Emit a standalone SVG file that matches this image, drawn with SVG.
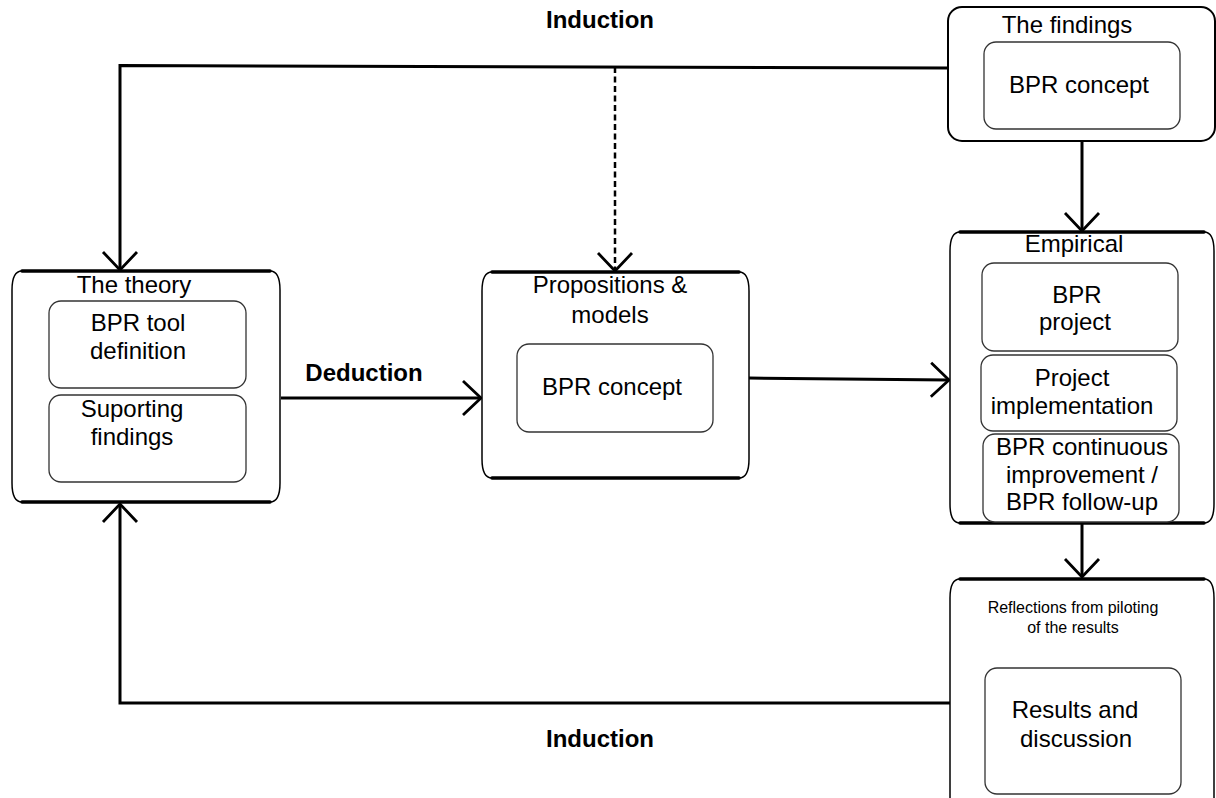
<svg xmlns="http://www.w3.org/2000/svg" width="1216" height="798" viewBox="0 0 1216 798">
  <style>
    text { font-family: "Liberation Sans", Arial, sans-serif; fill: #000; text-anchor: middle; }
    .t { font-size: 24px; }
    .s { font-size: 16px; }
    .lbl { font-size: 24px; font-weight: bold; }
    .frame { fill: #fff; stroke: #000; stroke-width: 1.5; }
    .rail { fill: none; stroke: #000; stroke-width: 3.5; stroke-linecap: round; }
    .inner { fill: #fff; stroke: #333; stroke-width: 1.3; }
    .box { fill: #fff; stroke: #000; stroke-width: 2; }
    .link { fill: none; stroke: #000; stroke-width: 3; }
    .dash { stroke-dasharray: 6 3.5; stroke-width: 2.5; }
  </style>
  <defs>
    <marker id="arrow" markerUnits="userSpaceOnUse" viewBox="-22 -20 26 40" markerWidth="26" markerHeight="40" refX="0" refY="0" orient="auto">
      <path d="M-18,-17 L0,0 L-18,17" fill="none" stroke="#000" stroke-width="2.8" stroke-linejoin="miter"/>
    </marker>
  </defs>

  <rect width="1216" height="798" fill="#fff"/>

  <!-- connectors -->
  <g id="connectors">
    <line class="link" x1="1082" y1="141" x2="1082" y2="231" marker-end="url(#arrow)"/>
    <polyline class="link" points="948,68 120,65.5 120,270" marker-end="url(#arrow)"/>
    <line class="link dash" x1="615" y1="67" x2="615" y2="271" marker-end="url(#arrow)"/>
    <line class="link" x1="281" y1="398" x2="481" y2="398" marker-end="url(#arrow)"/>
    <line class="link" x1="749" y1="378" x2="949" y2="380" marker-end="url(#arrow)"/>
    <line class="link" x1="1082" y1="524" x2="1082" y2="577" marker-end="url(#arrow)"/>
    <polyline class="link" points="950,703 120,703 120,504" marker-end="url(#arrow)"/>
    <text class="lbl" x="600" y="28">Induction</text>
    <text class="lbl" x="364" y="381">Deduction</text>
    <text class="lbl" x="600" y="747">Induction</text>
  </g>

  <!-- The findings -->
  <g id="findings">
    <rect class="box" x="948" y="7" width="267" height="134" rx="14"/>
    <text class="t" x="1067" y="33">The findings</text>
    <rect class="inner" x="984" y="42" width="196" height="87" rx="12"/>
    <text class="t" x="1079" y="93">BPR concept</text>
  </g>

  <!-- The theory -->
  <g id="theory">
    <path class="frame" d="M22,271 H270 Q280,271 280,290 V483 Q280,502 270,502 H22 Q12,502 12,483 V290 Q12,271 22,271 Z"/>
    <line class="rail" x1="22" y1="271" x2="270" y2="271"/>
    <line class="rail" x1="22" y1="502" x2="270" y2="502"/>
    <text class="t" x="134" y="293">The theory</text>
    <rect class="inner" x="49" y="301" width="197" height="87" rx="12"/>
    <text class="t" x="138" y="331">BPR tool</text>
    <text class="t" x="138" y="359">definition</text>
    <rect class="inner" x="49" y="395" width="197" height="87" rx="12"/>
    <text class="t" x="132" y="417">Suporting</text>
    <text class="t" x="132" y="445">findings</text>
  </g>

  <!-- Propositions & models -->
  <g id="propositions">
    <path class="frame" d="M492,272 H739 Q749,272 749,291 V459 Q749,478 739,478 H492 Q482,478 482,459 V291 Q482,272 492,272 Z"/>
    <line class="rail" x1="492" y1="272" x2="739" y2="272"/>
    <line class="rail" x1="492" y1="478" x2="739" y2="478"/>
    <text class="t" x="610" y="293">Propositions &amp;</text>
    <text class="t" x="610" y="323">models</text>
    <rect class="inner" x="517" y="344" width="196" height="88" rx="12"/>
    <text class="t" x="612" y="395">BPR concept</text>
  </g>

  <!-- Empirical -->
  <g id="empirical">
    <path class="frame" d="M960,232 H1204 Q1214,232 1214,251 V504 Q1214,523 1204,523 H960 Q950,523 950,504 V251 Q950,232 960,232 Z"/>
    <line class="rail" x1="960" y1="232" x2="1204" y2="232"/>
    <line class="rail" x1="960" y1="523" x2="1204" y2="523"/>
    <text class="t" x="1074" y="252">Empirical</text>
    <rect class="inner" x="982" y="263" width="196" height="88" rx="12"/>
    <text class="t" x="1077" y="303">BPR</text>
    <text class="t" x="1075" y="330">project</text>
    <rect class="inner" x="981" y="355" width="196" height="76" rx="12"/>
    <text class="t" x="1072" y="386">Project</text>
    <text class="t" x="1072" y="414">implementation</text>
    <rect class="inner" x="983" y="434" width="196" height="88" rx="12"/>
    <text class="t" x="1082" y="455">BPR continuous</text>
    <text class="t" x="1082" y="483">improvement /</text>
    <text class="t" x="1082" y="510">BPR follow-up</text>
  </g>

  <!-- Reflections / results -->
  <g id="reflections">
    <path class="frame" d="M960,579 H1204 Q1214,579 1214,598 V800 Q1214,815 1204,815 H960 Q950,815 950,800 V598 Q950,579 960,579 Z"/>
    <line class="rail" x1="960" y1="579" x2="1204" y2="579"/>
    <text class="s" x="1073" y="613">Reflections from piloting</text>
    <text class="s" x="1073" y="633">of the results</text>
    <rect class="inner" x="985" y="668" width="196" height="126" rx="12"/>
    <text class="t" x="1075" y="718">Results and</text>
    <text class="t" x="1076" y="747">discussion</text>
  </g>
</svg>
